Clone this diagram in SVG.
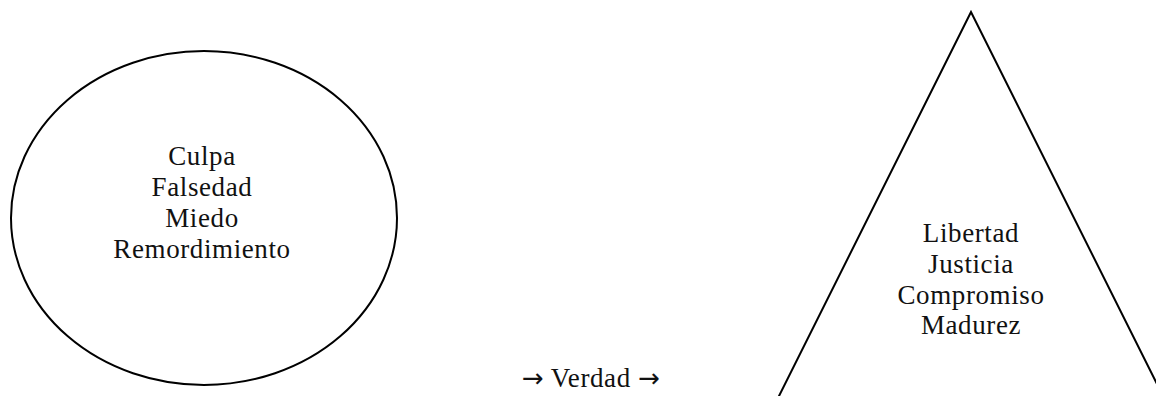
<svg xmlns="http://www.w3.org/2000/svg" width="1156" height="396" viewBox="0 0 1156 396">
<style>
.shape{fill:none;stroke:#000;stroke-width:2}
.lbl{font-family:"Liberation Serif","Times New Roman",serif;font-size:27px;fill:#111;text-anchor:middle;letter-spacing:0.6px}
.arr{font-family:"DejaVu Sans",sans-serif;font-size:26px;letter-spacing:0}
</style>
<rect width="1156" height="396" fill="#fff"/>
<g id="node-ellipse">
<ellipse class="shape" cx="204" cy="218" rx="193" ry="167"/>
<text class="lbl" x="202" y="165">Culpa</text>
<text class="lbl" x="202" y="196">Falsedad</text>
<text class="lbl" x="202" y="227">Miedo</text>
<text class="lbl" x="202" y="258">Remordimiento</text>
</g>
<g id="node-triangle">
<polygon class="shape" points="971,12 775,404 1167,404"/>
<text class="lbl" x="971" y="242">Libertad</text>
<text class="lbl" x="971" y="273">Justicia</text>
<text class="lbl" x="971" y="304">Compromiso</text>
<text class="lbl" x="971" y="334">Madurez</text>
</g>
<g id="connectors">
<text class="lbl" x="591" y="387"><tspan class="arr">→</tspan> Verdad <tspan class="arr">→</tspan></text>
</g>
</svg>
